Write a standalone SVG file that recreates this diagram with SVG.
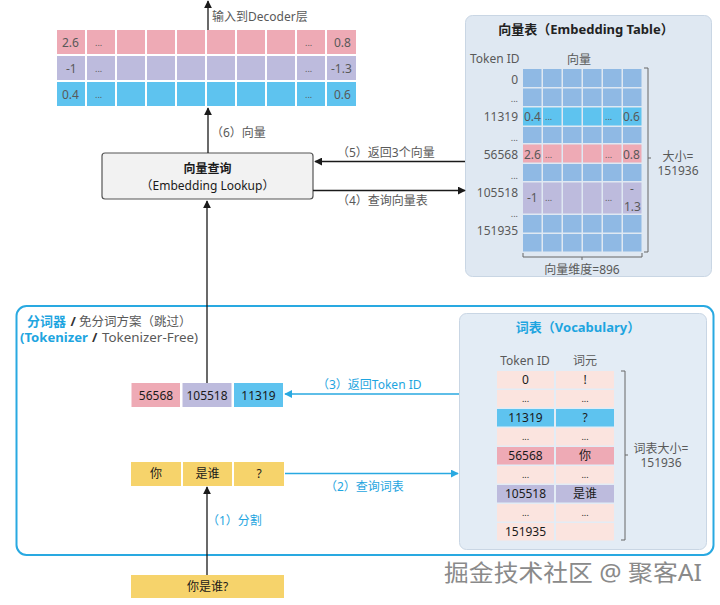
<svg xmlns="http://www.w3.org/2000/svg" width="720" height="605" viewBox="0 0 720 605">
<defs>
<marker id="ah" viewBox="0 0 10 10" refX="9" refY="5" markerWidth="8" markerHeight="8" orient="auto" markerUnits="userSpaceOnUse"><path d="M0,0 L10,5 L0,10 z" fill="#1a1a1a"/></marker>
<marker id="ab" viewBox="0 0 10 10" refX="9" refY="5" markerWidth="8" markerHeight="8" orient="auto" markerUnits="userSpaceOnUse"><path d="M0,0 L10,5 L0,10 z" fill="#29a9e1"/></marker>
<style>
text{font-family:"Noto Sans","Noto Sans CJK SC",sans-serif;}
.g{fill:#595959;font-size:12px;}
.k{fill:#1a1a1a;font-size:12px;}
.b{fill:#1ea5e0;font-size:12px;}
.bold{font-weight:bold;}
.pk{fill:#eeaab5;}
.lv{fill:#bdbbdd;}
.bl{fill:#5ec3ef;}
.gb{fill:#8fb9e4;}
.yl{fill:#f6d36b;}
.pc{fill:#fbe4df;}
.ln{stroke:#1a1a1a;stroke-width:1.3;fill:none;}
.lb{stroke:#29a9e1;stroke-width:1.3;fill:none;}
.br{stroke:#666;stroke-width:1;fill:none;}
</style>
</defs>

<!-- panels -->
<g id="tokenizer-panel">
<rect x="16.5" y="306" width="697" height="249" rx="10" fill="#fff" stroke="#29a9e1" stroke-width="2"/>
<text x="27" y="326" font-size="13" class="bold" fill="#1ea5e0">分词器</text>
<text x="70.5" y="326" font-size="13" class="bold" fill="#333">/</text>
<text x="79" y="326" font-size="12.5" fill="#595959">免分词方案（跳过）</text>
<text x="20" y="342" font-size="13" class="bold" fill="#1ea5e0" textLength="68" lengthAdjust="spacingAndGlyphs">(Tokenizer</text>
<text x="92" y="342" font-size="13" class="bold" fill="#333">/</text>
<text x="102" y="342" font-size="13" fill="#595959" textLength="96" lengthAdjust="spacingAndGlyphs">Tokenizer-Free)</text>
</g>

<g id="embedding-table">
<rect x="465.5" y="15.5" width="246" height="261" rx="7" fill="#dfe8f2" stroke="#c9d6e4"/>
<text x="586" y="34" text-anchor="middle" class="bold" font-size="13" fill="#222">向量表（Embedding Table）</text>
<text x="470" y="63" class="g" font-size="13.5">Token ID</text>
<text x="579" y="64" class="g" text-anchor="middle" font-size="13">向量</text>
<g>
<rect class="gb" x="523" y="69" width="18.5" height="18"/><rect class="gb" x="543" y="69" width="18.5" height="18"/><rect class="gb" x="563" y="69" width="18.5" height="18"/><rect class="gb" x="583" y="69" width="18.5" height="18"/><rect class="gb" x="603" y="69" width="18.5" height="18"/><rect class="gb" x="623" y="69" width="18.5" height="18"/>
<rect class="gb" x="523" y="88.5" width="18.5" height="17.5"/><rect class="gb" x="543" y="88.5" width="18.5" height="17.5"/><rect class="gb" x="563" y="88.5" width="18.5" height="17.5"/><rect class="gb" x="583" y="88.5" width="18.5" height="17.5"/><rect class="gb" x="603" y="88.5" width="18.5" height="17.5"/><rect class="gb" x="623" y="88.5" width="18.5" height="17.5"/>
<rect class="bl" x="523" y="107.5" width="18.5" height="18"/><rect class="bl" x="543" y="107.5" width="18.5" height="18"/><rect class="bl" x="563" y="107.5" width="18.5" height="18"/><rect class="bl" x="583" y="107.5" width="18.5" height="18"/><rect class="bl" x="603" y="107.5" width="18.5" height="18"/><rect class="bl" x="623" y="107.5" width="18.5" height="18"/>
<rect class="gb" x="523" y="127" width="18.5" height="16"/><rect class="gb" x="543" y="127" width="18.5" height="16"/><rect class="gb" x="563" y="127" width="18.5" height="16"/><rect class="gb" x="583" y="127" width="18.5" height="16"/><rect class="gb" x="603" y="127" width="18.5" height="16"/><rect class="gb" x="623" y="127" width="18.5" height="16"/>
<rect class="pk" x="523" y="144.5" width="18.5" height="18"/><rect class="pk" x="543" y="144.5" width="18.5" height="18"/><rect class="pk" x="563" y="144.5" width="18.5" height="18"/><rect class="pk" x="583" y="144.5" width="18.5" height="18"/><rect class="pk" x="603" y="144.5" width="18.5" height="18"/><rect class="pk" x="623" y="144.5" width="18.5" height="18"/>
<rect class="gb" x="523" y="164" width="18.5" height="17"/><rect class="gb" x="543" y="164" width="18.5" height="17"/><rect class="gb" x="563" y="164" width="18.5" height="17"/><rect class="gb" x="583" y="164" width="18.5" height="17"/><rect class="gb" x="603" y="164" width="18.5" height="17"/><rect class="gb" x="623" y="164" width="18.5" height="17"/>
<rect class="lv" x="523" y="182.5" width="18.5" height="31"/><rect class="lv" x="543" y="182.5" width="18.5" height="31"/><rect class="lv" x="563" y="182.5" width="18.5" height="31"/><rect class="lv" x="583" y="182.5" width="18.5" height="31"/><rect class="lv" x="603" y="182.5" width="18.5" height="31"/><rect class="lv" x="623" y="182.5" width="18.5" height="31"/>
<rect class="gb" x="523" y="215" width="18.5" height="17.5"/><rect class="gb" x="543" y="215" width="18.5" height="17.5"/><rect class="gb" x="563" y="215" width="18.5" height="17.5"/><rect class="gb" x="583" y="215" width="18.5" height="17.5"/><rect class="gb" x="603" y="215" width="18.5" height="17.5"/><rect class="gb" x="623" y="215" width="18.5" height="17.5"/>
<rect class="gb" x="523" y="234" width="18.5" height="17.5"/><rect class="gb" x="543" y="234" width="18.5" height="17.5"/><rect class="gb" x="563" y="234" width="18.5" height="17.5"/><rect class="gb" x="583" y="234" width="18.5" height="17.5"/><rect class="gb" x="603" y="234" width="18.5" height="17.5"/><rect class="gb" x="623" y="234" width="18.5" height="17.5"/>
</g>
<g class="g" font-size="12.5">
<text x="524" y="121">0.4</text><text x="545" y="120" font-size="9">...</text><text x="605" y="120" font-size="9">...</text><text x="623" y="121">0.6</text>
<text x="524" y="159">2.6</text><text x="545" y="158" font-size="9">...</text><text x="605" y="158" font-size="9">...</text><text x="623" y="159">0.8</text>
<text x="527" y="202">-1</text><text x="545" y="201" font-size="9">...</text><text x="605" y="201" font-size="9">...</text><text x="630" y="193">-</text><text x="624" y="211">1.3</text>
</g>
<g class="g" text-anchor="end" font-size="12">
<text x="518" y="84">0</text><text x="518" y="102" font-size="9">...</text><text x="518" y="121">11319</text><text x="518" y="141" font-size="9">...</text><text x="518" y="159">56568</text><text x="518" y="179" font-size="9">...</text><text x="518" y="197">105518</text><text x="518" y="217" font-size="9">...</text><text x="518" y="235">151935</text>
</g>
<path class="br" d="M644,68 h4 v184 h-4 M648,158 h3"/>
<text x="678" y="161" class="g" text-anchor="middle" font-size="13">大小=</text>
<text x="678" y="175" class="g" text-anchor="middle" font-size="13">151936</text>
<path class="br" d="M523,253 v4 h119 v-4 M582,257 v3"/>
<text x="582" y="274" class="g" text-anchor="middle" font-size="13">向量维度=896</text>
</g>

<g id="vocabulary-table">
<rect x="459.5" y="313.5" width="247" height="236" rx="7" fill="#e3ecf5" stroke="#c9d6e4"/>
<text x="578" y="332" text-anchor="middle" class="bold" font-size="13" fill="#1ea5e0">词表（Vocabulary）</text>
<text x="525" y="365" class="g" text-anchor="middle" font-size="13.5">Token ID</text>
<text x="585" y="365" class="g" text-anchor="middle" font-size="13">词元</text>
<g>
<rect class="pc" x="497" y="371" width="57" height="17.5"/><rect class="pc" x="556" y="371" width="58" height="17.5"/>
<rect class="pc" x="497" y="390" width="57" height="17.5"/><rect class="pc" x="556" y="390" width="58" height="17.5"/>
<rect class="bl" x="497" y="409" width="57" height="17.5"/><rect class="bl" x="556" y="409" width="58" height="17.5"/>
<rect class="pc" x="497" y="428" width="57" height="17.5"/><rect class="pc" x="556" y="428" width="58" height="17.5"/>
<rect class="pk" x="497" y="447" width="57" height="17.5"/><rect class="pk" x="556" y="447" width="58" height="17.5"/>
<rect class="pc" x="497" y="466" width="57" height="17.5"/><rect class="pc" x="556" y="466" width="58" height="17.5"/>
<rect class="lv" x="497" y="485" width="57" height="17.5"/><rect class="lv" x="556" y="485" width="58" height="17.5"/>
<rect class="pc" x="497" y="504" width="57" height="17.5"/><rect class="pc" x="556" y="504" width="58" height="17.5"/>
<rect class="pc" x="497" y="523" width="57" height="17.5"/><rect class="pc" x="556" y="523" width="58" height="17.5"/>
</g>
<g class="k" text-anchor="middle" font-size="11.5">
<text x="525.5" y="384">0</text><text x="585" y="384">!</text>
<text x="525.5" y="402" font-size="9">...</text><text x="585" y="402" font-size="9">...</text>
<text x="525.5" y="422">11319</text><text x="585" y="422">?</text>
<text x="525.5" y="440" font-size="9">...</text><text x="585" y="440" font-size="9">...</text>
<text x="525.5" y="460">56568</text><text x="585" y="460">你</text>
<text x="525.5" y="478" font-size="9">...</text><text x="585" y="478" font-size="9">...</text>
<text x="525.5" y="498">105518</text><text x="585" y="498">是谁</text>
<text x="525.5" y="516" font-size="9">...</text><text x="585" y="516" font-size="9">...</text>
<text x="525.5" y="536">151935</text>
</g>
<path class="br" d="M621,371 h4 v169 h-4 M625,455 h3"/>
<text x="661" y="453" class="g" text-anchor="middle" font-size="13">词表大小=</text>
<text x="661" y="467" class="g" text-anchor="middle" font-size="13">151936</text>
</g>

<g id="output-vectors">
<rect class="pk" x="57" y="30" width="28" height="24"/><rect class="pk" x="87" y="30" width="28" height="24"/><rect class="pk" x="117" y="30" width="28" height="24"/><rect class="pk" x="147" y="30" width="28" height="24"/><rect class="pk" x="177" y="30" width="28" height="24"/><rect class="pk" x="207" y="30" width="28" height="24"/><rect class="pk" x="237" y="30" width="28" height="24"/><rect class="pk" x="267" y="30" width="28" height="24"/><rect class="pk" x="297" y="30" width="28" height="24"/><rect class="pk" x="327" y="30" width="29" height="24"/>
<rect class="lv" x="57" y="56" width="28" height="24"/><rect class="lv" x="87" y="56" width="28" height="24"/><rect class="lv" x="117" y="56" width="28" height="24"/><rect class="lv" x="147" y="56" width="28" height="24"/><rect class="lv" x="177" y="56" width="28" height="24"/><rect class="lv" x="207" y="56" width="28" height="24"/><rect class="lv" x="237" y="56" width="28" height="24"/><rect class="lv" x="267" y="56" width="28" height="24"/><rect class="lv" x="297" y="56" width="28" height="24"/><rect class="lv" x="327" y="56" width="29" height="24"/>
<rect class="bl" x="57" y="82" width="28" height="24"/><rect class="bl" x="87" y="82" width="28" height="24"/><rect class="bl" x="117" y="82" width="28" height="24"/><rect class="bl" x="147" y="82" width="28" height="24"/><rect class="bl" x="177" y="82" width="28" height="24"/><rect class="bl" x="207" y="82" width="28" height="24"/><rect class="bl" x="237" y="82" width="28" height="24"/><rect class="bl" x="267" y="82" width="28" height="24"/><rect class="bl" x="297" y="82" width="28" height="24"/><rect class="bl" x="327" y="82" width="29" height="24"/>
<g class="g" font-size="12.5">
<text x="62" y="47">2.6</text><text x="95" y="46" font-size="9">...</text><text x="305" y="46" font-size="9">...</text><text x="334" y="47">0.8</text>
<text x="66" y="73">-1</text><text x="95" y="72" font-size="9">...</text><text x="305" y="72" font-size="9">...</text><text x="331" y="73">-1.3</text>
<text x="62" y="99">0.4</text><text x="95" y="98" font-size="9">...</text><text x="305" y="98" font-size="9">...</text><text x="334" y="99">0.6</text>
</g>
</g>

<g id="embedding-lookup">
<rect x="102" y="153" width="211" height="46" rx="3" fill="#f2f2f2" stroke="#555" stroke-width="1.2"/>
<text x="207.5" y="173" text-anchor="middle" class="k bold" font-size="13">向量查询</text>
<text x="207.5" y="190" text-anchor="middle" class="k" font-size="13.5">（Embedding Lookup）</text>
</g>

<g id="token-ids">
<rect class="pk" x="131.5" y="383" width="48.5" height="24"/>
<rect class="lv" x="182.5" y="383" width="49" height="24"/>
<rect class="bl" x="234" y="383" width="49" height="24"/>
<text x="156" y="400" text-anchor="middle" class="k" font-size="13.5">56568</text>
<text x="207" y="400" text-anchor="middle" class="k" font-size="13.5">105518</text>
<text x="258.5" y="400" text-anchor="middle" class="k" font-size="13.5">11319</text>
</g>

<g id="tokens">
<rect class="yl" x="131" y="462" width="50" height="24"/>
<rect class="yl" x="183" y="462" width="49" height="24"/>
<rect class="yl" x="234" y="462" width="50" height="24"/>
<text x="156" y="478" text-anchor="middle" class="k" font-size="13">你</text>
<text x="207.5" y="478" text-anchor="middle" class="k" font-size="13">是谁</text>
<text x="259" y="478" text-anchor="middle" class="k" font-size="13">?</text>
</g>

<g id="input-text">
<rect class="yl" x="131" y="575" width="153" height="23"/>
<text x="207.5" y="591" text-anchor="middle" class="k" font-size="13">你是谁?</text>
</g>

<g id="connectors">
<line class="ln" x1="208" y1="30" x2="208" y2="1" marker-end="url(#ah)"/>
<text x="212" y="21" class="g" font-size="13.5">输入到Decoder层</text>
<line class="ln" x1="208" y1="153" x2="208" y2="108" marker-end="url(#ah)"/>
<text x="211" y="137" class="g" font-size="12.5">（6）向量</text>
<line class="ln" x1="465" y1="161.5" x2="315" y2="161.5" marker-end="url(#ah)"/>
<text x="337" y="157" class="g" font-size="12.5">（5）返回3个向量</text>
<line class="ln" x1="313" y1="190.5" x2="465" y2="190.5" marker-end="url(#ah)"/>
<text x="337" y="205" class="g" font-size="12.5">（4）查询向量表</text>
<line class="ln" x1="207" y1="383" x2="207" y2="201" marker-end="url(#ah)"/>
<line class="lb" x1="459" y1="394" x2="285" y2="394" marker-end="url(#ab)"/>
<text x="317" y="389" class="b" font-size="13">（3）返回Token ID</text>
<line class="lb" x1="285" y1="473.5" x2="458" y2="473.5" marker-end="url(#ab)"/>
<text x="325" y="491" class="b" font-size="12.5">（2）查询词表</text>
<line class="ln" x1="207" y1="575" x2="207" y2="487" marker-end="url(#ah)"/>
<text x="207" y="525" class="b" font-size="12.5">（1）分割</text>
</g>

<text x="444" y="581" font-size="23" textLength="258" lengthAdjust="spacingAndGlyphs" fill="#8a8a8a" stroke="#fff" stroke-width="0.6" paint-order="stroke">掘金技术社区 @ 聚客AI</text>
</svg>
